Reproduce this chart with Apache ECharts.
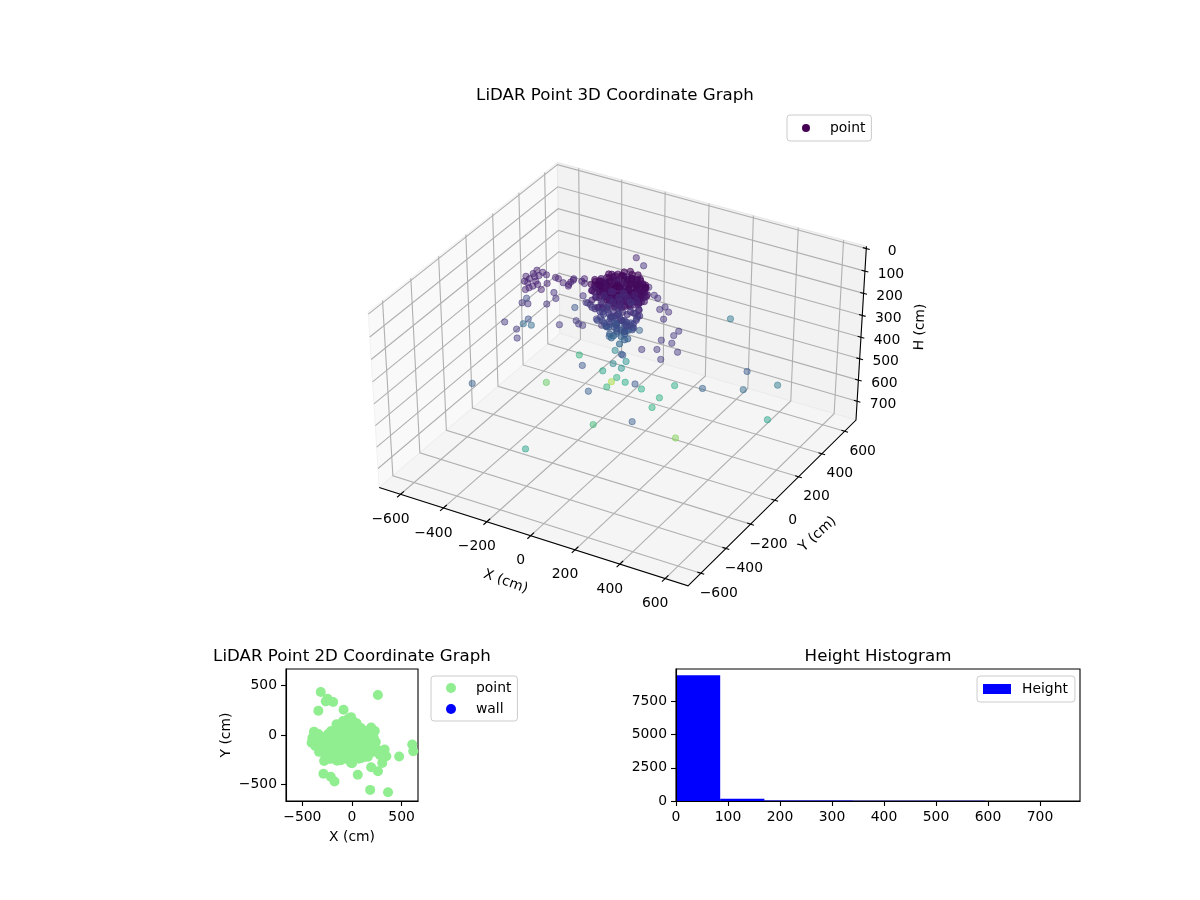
<!DOCTYPE html>
<html>
<head>
<meta charset="utf-8">
<title>LiDAR Point Graphs</title>
<script src="https://cdn.jsdelivr.net/npm/echarts@6/dist/echarts.min.js"></script>
<style>
  html, body { margin: 0; padding: 0; background: #fff; }
  #chart { width: 1200px; height: 900px; }
</style>
</head>
<body>
<div id="chart"></div>
<script>
// [X, Y, H] in cm
const sparsePoints = [
  [-289,-630,220],[-344,0,560],[-270,136,480],[23,-334,200],[123,-459,220],[31,-269,500],[-84,3,430],[-50,-24,480],
  [-188,250,640],[-44,44,470],[-36,18,330],[110,-186,200],[114,-182,205],[8,-74,330],[10,24,370],[20,-30,370],
  [20,0,450],[266,-353,200],[101,-13,450],[377,-568,220],[190,-85,470],[179,-7,470],[201,75,450],[280,-55,600],
  [480,-210,230],[603,-111,250],[582,-44,210],[663,58,300],[661,-13,420],[269,400,290],[-37,-663,420],
  [-111,314,80],[-72,304,100],[39,150,90],[80,121,100],[103,108,100],[153,77,110],[144,51,110],[184,50,110],
  [194,-7,110],[281,-43,120],[281,-82,120],[257,-136,120],[303,-136,120],[277,-205,120],[355,-184,120],
  [227,-234,120],[318,-248,130],[54,52,230],[111,-95,130],[27,-6,210],[4,-2,210],[-11,-13,230],[-25,-47,230],
  [3,-152,120],[-39,-120,120],[-60,-189,120],[-79,-187,120],[-100,-170,120],[-140,-229,120],
  [-333,-316,120],[-265,-340,120],[-228,-397,120],[-392,-86,260],[-359,-80,260],[-321,-163,180],
  [-343,-170,110],[-319,-166,110],[-402,-41,170],[-255,-131,110],[-247,-76,110],[-268,-55,100],
  [-228,35,200],[-166,-5,110],[-131,-30,120],[-116,-35,120],[-139,-29,120]
];
const leftClumpPoints = [
  [-388,18,70],[-387,-12,70],[-360,15,70],[-400,-45,70],[-378,-55,70],[-369,-31,70],[-359,-14,70],[-337,5,70],
  [-368,-85,70],[-348,-135,70],[-337,-98,70],[-328,-77,70],[-385,-81,70],[-343,-116,70],[-295,-104,70],
  [-300,-52,70],[-347,-59,70],[-296,5,70],[-281,2,70],[-249,-16,70],[-218,-29,70],[-226,3,70],[-229,31,70],
  [-223,-17,70],[-193,52,70],[-174,20,70],[-192,30,70],[-225,21,70]
];
const densePoints = [
  [-105,-20,38],[-98,18,26],[-92,-45,52],[-88,44,31],[-80,-8,45],[-76,62,22],[-72,-66,58],[-68,25,18],[-62,-32,36],[-58,78,24],
  [-55,4,60],[-50,-82,47],[-46,48,33],[-44,-14,28],[-38,92,16],[-36,-55,55],[-32,30,41],[-28,-92,62],[-26,68,19],[-22,-5,35],
  [-18,105,14],[-16,-38,48],[-12,50,27],[-8,-74,40],[-6,16,22],[-3,88,30],[0,-22,57],[4,-98,50],[6,38,16],[10,-52,33],
  [12,72,25],[15,-8,44],[18,102,18],[20,-84,63],[24,24,30],[26,-36,20],[30,60,38],[32,-104,55],[36,-2,26],[38,84,21],
  [42,-62,46],[44,36,52],[48,-24,31],[50,66,17],[54,-88,60],[56,10,39],[60,-46,24],[62,44,29],[66,-10,58],[68,-76,36],
  [72,24,20],[76,-34,49],[78,56,34],[82,-60,27],[86,2,43],[90,-18,61],[92,34,22],[96,-44,37],[100,12,30],[104,-22,53],
  [-100,-2,63],[-90,28,48],[-84,-30,24],[-70,6,33],[-66,-50,42],[-60,52,40],[-52,-20,20],[-42,12,50],[-34,-72,26],[-24,40,60],
  [-20,-60,30],[-10,-30,17],[-2,64,45],[8,-14,65],[14,46,35],[22,-68,23],[28,14,56],[34,-28,42],[40,52,28],[46,-50,18],
  [52,-4,34],[58,30,62],[64,-64,41],[70,6,25],[74,-20,35],[80,40,47],[88,-38,20],[94,18,55],[-112,-34,30],[-108,8,55],
  [-95,-60,40],[-78,30,60],[-48,64,48],[-40,-40,22],[-30,78,35],[-14,22,38],[2,-44,28],[16,84,42],[30,-10,50],[44,-84,30],
  [58,-28,45],[72,46,15],[84,-74,52],[98,-6,18],[108,-48,44],[112,2,38],
  [-110,-10,20],[-104,30,44],[-96,-30,15],[-94,8,33],[-86,-50,28],[-84,52,18],[-82,16,58],[-78,-22,36],[-74,40,44],[-70,-42,16],
  [-66,70,30],[-64,-12,52],[-60,12,25],[-56,-60,34],[-54,36,15],[-52,60,46],[-48,-34,58],[-45,-2,14],[-42,82,26],[-40,26,37],
  [-37,-76,20],[-34,6,55],[-30,-22,42],[-28,52,12],[-26,96,38],[-24,-48,16],[-20,14,30],[-17,-78,48],[-15,70,50],[-13,-12,20],
  [-11,36,56],[-9,-56,62],[-7,100,22],[-4,-34,10],[-1,4,40],[1,52,18],[3,-70,24],[5,80,36],[7,-26,12],[9,22,58],
  [11,-88,38],[13,-44,52],[15,60,14],[17,4,26],[19,-60,40],[21,92,32],[23,-16,54],[25,40,44],[27,-78,16],[29,-48,34],
  [31,70,22],[33,-100,44],[35,16,12],[37,-34,60],[39,-8,36],[41,52,40],[43,-70,24],[45,-20,14],[47,28,48],[49,-92,32],
  [51,8,60],[53,-58,18],[55,48,24],[57,-12,44],[59,-78,54],[61,22,14],[63,-36,32],[65,60,30],[67,-52,58],[69,-2,16],
  [71,34,40],[73,-68,22],[75,-14,50],[77,18,30],[79,-44,14],[81,50,20],[83,-28,56],[85,-84,42],[87,12,36],[89,-58,24],
  [91,-6,48],[93,26,16],[95,-30,62],[97,-64,34],[99,2,24],[101,-16,40],[103,-50,20],[105,22,42],[107,-34,30],[109,-8,56],
  [-102,-42,50],[-88,-14,18],[-72,-8,26],[-58,-50,14],[-44,-84,36],[-30,-58,48],[-16,-96,26],[0,-84,18],[12,-108,30],[26,-92,46],
  [40,-108,20],[56,-104,36],[72,-90,48],[90,-78,18],
  [-95,-30,85],[-80,10,92],[-72,-55,110],[-60,30,78],[-50,-15,120],[-42,-70,95],[-35,45,105],[-28,-35,72],[-18,8,128],[-10,-85,88],
  [-4,-48,115],[4,30,82],[12,-20,100],[18,-72,125],[26,12,75],[32,-42,108],[40,-90,90],[48,-8,118],[54,28,86],[62,-58,102],
  [68,-22,76],[76,10,112],[84,-48,94],[92,-14,122],[100,-36,80],[-88,-70,75],[-64,-88,98],[-40,-100,80],[-14,-110,72],[16,-105,100],
  [44,-112,85],[70,-92,110],[-100,-50,120],[-22,60,90],[10,58,120],[38,42,72],[60,6,130],[-55,-45,130],[0,-5,88],[24,-55,78],
  [110,-60,95],[-76,-20,105],[-46,18,70],[96,-70,128],[-30,-10,98],
  [-60,-30,150],[-44,-5,175],[-36,-48,190],[-24,-20,160],[-15,-60,210],[-6,-8,145],[2,-34,195],[10,-70,165],[18,-2,220],[26,-30,155],
  [34,-58,180],[42,-14,200],[50,-42,148],[58,-72,170],[66,-26,185],[74,-6,142],[-70,-60,165],[-50,-70,140],[-28,-80,155],[4,-92,145],
  [30,-85,140],[60,-50,215],[-8,-42,225],[-40,-25,205],[12,-18,235],[40,-40,230],[80,-44,160],[-20,-38,240],[22,-48,250],[-4,-24,180],
  [-48,-60,160],[-30,-62,178],[-12,-70,150],[6,-48,170],[20,-66,185],[36,-30,165],[52,-60,190],[70,-52,150],[-20,-8,190],[8,0,175],
  [30,-12,190],[56,-20,160],[-56,-10,130],[-36,-30,140],[-6,-60,130],[16,-36,140],[44,-72,125],[70,-76,140],[86,-30,135],[-70,-40,135]
];

// [X, Y] in cm
const planePoints = [
  [-315,434],[-247,366],[-264,339],[-190,332],[-339,244],[-85,254],[261,403],[-10,180],[-156,108],[47,119],[193,75],
  [607,-95],[617,-163],[475,-217],[329,-146],[346,-214],[305,-281],[261,-366],[193,-325],[58,-400],[-288,-390],
  [-214,-420],[-176,-468],[183,-553],[363,-576],[0,-285],[-281,-261],[-197,-227],[-112,-254],
  [-383,34],[-407,-78],[-350,-20],[-332,-170],[-370,-110],[-300,-60],[-320,-10],[-280,-100],[-260,-30],[-250,-150],
  [-220,-70],[-200,-20],[-190,-130],[-170,-200],[-140,-50],[-130,30],[-120,100],[-100,-120],[-90,140],[-70,-30],
  [-60,60],[-40,-180],[-30,-90],[-20,110],[0,20],[10,-50],[20,-220],[30,90],[50,-130],[60,30],[80,-60],[90,70],
  [110,-180],[120,-10],[140,40],[150,-100],[170,-40],[190,20],[200,-110],[220,-30],[230,40],[240,-70],[160,-220],
  [100,-230],[-60,-240],[-10,-280],[-230,-240],[-150,-260],[-300,-150],[-240,10],[260,-150],[280,-200],
  [-400,-30],[-380,-60],[-360,-90],[-340,-50],[-340,10],[-310,-100],[-290,-30],[-280,-160],[-250,-90],[-230,-110],
  [-210,-170],[-180,-60],[-170,-100],[-160,-20],[-150,-170],[-130,-100],[-120,-200],[-110,-30],[-100,40],[-90,-70],
  [-80,-160],[-70,90],[-50,-100],[-40,20],[-40,-40],[-20,60],[-10,-130],[0,-180],[10,140],[20,40],[30,-20],[40,-90],
  [50,80],[70,-180],[80,-10],[90,-110],[100,30],[110,-60],[130,-140],[140,-30],[170,-170],[180,-70],[200,50],[210,-170],
  [-60,-200],[-100,-190],[-210,-240],[70,-240],[130,-220],[-270,-200],[-380,10],[-210,40],[-170,40],[-150,70],[-60,120],
  [-40,160],[-10,130],[40,60],[150,10]
];

// histogram: [bin start, bin end, count]
const heightBins = [
  [0,85,9460],[85,170,160],[170,255,45],[255,340,30],[340,425,18],
  [425,510,14],[510,595,10],[595,680,6],[680,765,3]
];

const xTicks3d = [-600,-400,-200,0,200,400,600];
const yTicks3d = [-600,-400,-200,0,200,400,600];
const hTicks3d = [0,100,200,300,400,500,600,700];
const planeTicks = [-500,0,500];
const histXTicks = [0,100,200,300,400,500,600,700];
const histYTicks = [0,2500,5000,7500];

const viridis = ['#440154','#482475','#414487','#355f8d','#2a788e','#21918c','#22a884','#44bf70','#7ad151','#bddf26','#fde725'];
const heightMax = 745;

const font = '"DejaVu Sans", sans-serif';
const minus = v => String(v).replace('-', '\u2212');

// box limits of the 3D axes
const xLim = [-700, 700], yLim = [-700, 700], hLim = [-10, 790];

// same camera maths as mplot3d, output goes on the hidden scene axes
const ELEV = 38 * Math.PI / 180, AZIM = -60 * Math.PI / 180, DIST = 12;
const BOX = [1.1428, 1.1428, 0.8571];
const n = [Math.cos(ELEV) * Math.cos(AZIM), Math.cos(ELEV) * Math.sin(AZIM), Math.sin(ELEV)];
const u = [-n[1] / Math.cos(ELEV), n[0] / Math.cos(ELEV), 0];
const v = [n[1] * u[2] - n[2] * u[1], n[2] * u[0] - n[0] * u[2], n[0] * u[1] - n[1] * u[0]];
const dot = (a, b) => a[0] * b[0] + a[1] * b[1] + a[2] * b[2];
const project = (X, Y, H) => {
  const d = [
    ((X - xLim[0]) / (xLim[1] - xLim[0]) - 0.5) * BOX[0],
    ((Y - yLim[0]) / (yLim[1] - yLim[0]) - 0.5) * BOX[1],
    ((hLim[1] - H) / (hLim[1] - hLim[0]) - 0.5) * BOX[2]
  ];
  const w = DIST - dot(n, d);
  return [dot(u, d) / w, dot(v, d) / w];
};

const heightColor = h => {
  const t = Math.min(Math.max(h / heightMax, 0), 1) * (viridis.length - 1);
  const i = Math.min(Math.floor(t), viridis.length - 2);
  const f = t - i;
  const rgb = s => [1, 3, 5].map(k => parseInt(s.substr(k, 2), 16));
  const a = rgb(viridis[i]), b = rgb(viridis[i + 1]);
  return `rgb(${a.map((c, k) => Math.round(c + (b[k] - c) * f)).join(',')})`;
};

// panes, grid lines, axis lines, ticks and labels of the 3D box
const scene = [];
const addPoly = (type, pts, style) => scene.push({ type, pts: pts.map(p => project(p[0], p[1], p[2])), style });
const addText = (text, p, dx, dy, rotation) => scene.push({ type: 'text', text, pts: [project(p[0], p[1], p[2])], dx, dy, rotation });

const [x0, x1] = xLim, [y0, y1] = yLim, hTop = hLim[0], hBot = hLim[1];
const gridStyle = { stroke: '#b0b0b0', lineWidth: 1.1, fill: 'none' };
const axisStyle = { stroke: '#000', lineWidth: 1.1, fill: 'none' };

addPoly('polygon', [[x0,y0,hBot],[x0,y1,hBot],[x0,y1,hTop],[x0,y0,hTop]], { fill: '#f9f9f9', stroke: '#f2f2f2', lineWidth: 1 });
addPoly('polygon', [[x0,y1,hBot],[x1,y1,hBot],[x1,y1,hTop],[x0,y1,hTop]], { fill: '#f2f2f2', stroke: '#e8e8e8', lineWidth: 1 });
addPoly('polygon', [[x0,y0,hBot],[x1,y0,hBot],[x1,y1,hBot],[x0,y1,hBot]], { fill: '#f5f5f5', stroke: '#ececec', lineWidth: 1 });

xTicks3d.forEach(t => addPoly('polyline', [[t,y0,hBot],[t,y1,hBot],[t,y1,hTop]], gridStyle));
yTicks3d.forEach(t => addPoly('polyline', [[x1,t,hBot],[x0,t,hBot],[x0,t,hTop]], gridStyle));
hTicks3d.forEach(t => addPoly('polyline', [[x0,y0,t],[x0,y1,t],[x1,y1,t]], gridStyle));

addPoly('polyline', [[x0,y0,hBot],[x1,y0,hBot],[x1,y1,hBot],[x1,y1,hTop]], axisStyle);
xTicks3d.forEach(t => {
  addPoly('polyline', [[t,y0 - 25,hBot],[t,y0 + 25,hBot]], axisStyle);
  addText(minus(t), [t,y0,hBot], -10, 25, 0);
});
yTicks3d.forEach(t => {
  addPoly('polyline', [[x1 - 15,t,hBot],[x1 + 15,t,hBot]], axisStyle);
  addText(minus(t), [x1,t,hBot], 18, 20, 0);
});
hTicks3d.forEach(t => {
  addPoly('polyline', [[x1 - 15,y1,t],[x1 + 15,y1,t]], axisStyle);
  addText(minus(t), [x1,y1,t], 26, 3, 0);
});
addText('X (cm)', [0,y0,hBot], -25, 46, -20 * Math.PI / 180);
addText('Y (cm)', [x1,0,hBot], 43, 34, 42 * Math.PI / 180);
addText('H (cm)', [x1,y1,390], 59, -8, 88 * Math.PI / 180);

const renderScene = (params, api) => {
  const item = scene[params.dataIndex];
  const pts = item.pts.map(p => api.coord(p));
  if (item.type === 'text') {
    return {
      type: 'text',
      x: pts[0][0] + item.dx,
      y: pts[0][1] + item.dy,
      rotation: item.rotation,
      style: { text: item.text, fill: '#000', font: `13.9px ${font}`, align: 'center', verticalAlign: 'middle' }
    };
  }
  return { type: item.type, shape: { points: pts }, style: item.style };
};

const renderBin = (params, api) => {
  const a = api.coord([api.value(0), 0]);
  const b = api.coord([api.value(1), api.value(2)]);
  return { type: 'rect', shape: { x: a[0], y: b[1], width: b[0] - a[0], height: a[1] - b[1] }, style: { fill: '#0000ff' } };
};

// the packed points read darker in the reference, as nearer ones do with depth shading
const cloudItem = opacity => p => {
  const c = heightColor(p[2]);
  return {
    value: project(p[0], p[1], p[2]),
    itemStyle: { color: c, borderColor: c, borderWidth: 1, opacity }
  };
};

const hiddenAxis = { show: false, type: 'value', min: -0.1, max: 0.1 };
const valueAxis = (ticks, min, max, extra) => Object.assign({
  type: 'value',
  min,
  max,
  axisLine: { show: true, onZero: false, lineStyle: { color: '#000', width: 1.1 } },
  axisTick: { show: true, length: 5, customValues: ticks, lineStyle: { color: '#000', width: 1.1 } },
  axisLabel: { color: '#000', fontSize: 13.9, fontFamily: font, margin: 9, customValues: ticks, formatter: minus, showMinLabel: true, showMaxLabel: true },
  splitLine: { show: false },
  nameTextStyle: { color: '#000', fontSize: 13.9, fontFamily: font }
}, extra);

const titleBase = { top: 648, padding: 0, textAlign: 'center', textStyle: { color: '#000', fontSize: 16.67, fontWeight: 'normal', fontFamily: font } };
const legendBase = {
  orient: 'vertical',
  selectedMode: false,
  backgroundColor: '#fff',
  borderColor: '#cccccc',
  borderWidth: 1,
  borderRadius: 3,
  itemHeight: 10,
  itemGap: 7,
  textStyle: { color: '#000', fontSize: 13.9, fontFamily: font }
};

const option = {
  animation: false,
  backgroundColor: '#fff',
  title: [
    Object.assign({}, titleBase, { text: 'LiDAR Point 3D Coordinate Graph', left: 615, top: 87 }),
    Object.assign({}, titleBase, { text: 'LiDAR Point 2D Coordinate Graph', left: 352 }),
    Object.assign({}, titleBase, { text: 'Height Histogram', left: 878 })
  ],
  legend: [
    Object.assign({}, legendBase, {
      left: 787, top: 115, itemWidth: 38, itemHeight: 8, padding: [6, 6, 6, 15],
      data: [{ name: 'point', icon: 'circle', itemStyle: { color: '#440154', opacity: 1, borderWidth: 0 } }]
    }),
    Object.assign({}, legendBase, {
      left: 431, top: 676, itemWidth: 40, padding: [5, 6, 5, 15],
      data: [
        { name: 'point', icon: 'circle', itemStyle: { color: '#90ee90', opacity: 1, borderWidth: 0 } },
        { name: 'wall', icon: 'circle', itemStyle: { color: '#0000ff', opacity: 1, borderWidth: 0 } }
      ]
    }),
    Object.assign({}, legendBase, {
      left: 977, top: 676, itemWidth: 28, padding: [6, 7, 6, 6],
      textStyle: { color: '#000', fontSize: 13.9, fontFamily: font, padding: [0, 0, 0, 6] },
      data: [{ name: 'Height', icon: 'rect', itemStyle: { color: '#0000ff', opacity: 1 } }]
    })
  ],
  grid: [
    { left: 246.3, top: 57.7, width: 749, height: 620.4, show: false },
    { left: 286, top: 669, width: 132, height: 132, show: true, borderColor: '#000', borderWidth: 1.1, backgroundColor: 'transparent' },
    { left: 676, top: 669, width: 404, height: 132, show: true, borderColor: '#000', borderWidth: 1.1, backgroundColor: 'transparent' }
  ],
  xAxis: [
    Object.assign({ gridIndex: 0 }, hiddenAxis),
    valueAxis(planeTicks, -665, 665, { gridIndex: 1, name: 'X (cm)', nameLocation: 'middle', nameGap: 29 }),
    valueAxis(histXTicks, 0, 777, { gridIndex: 2, z: 5 })
  ],
  yAxis: [
    Object.assign({ gridIndex: 0 }, hiddenAxis),
    valueAxis(planeTicks, -665, 665, { gridIndex: 1, name: 'Y (cm)', nameLocation: 'middle', nameGap: 53 }),
    valueAxis(histYTicks, 0, 9933, { gridIndex: 2, z: 5 })
  ],
  series: [
    {
      type: 'custom',
      name: 'scene',
      xAxisIndex: 0,
      yAxisIndex: 0,
      silent: true,
      clip: false,
      z: 1,
      renderItem: renderScene,
      encode: { x: 0, y: 1 },
      data: scene.map((s, i) => [s.pts[0][0], s.pts[0][1], i])
    },
    {
      type: 'scatter',
      name: 'point',
      xAxisIndex: 0,
      yAxisIndex: 0,
      silent: true,
      z: 3,
      symbolSize: 6.4,
      large: false,
      itemStyle: { color: '#440154' },
      data: sparsePoints.concat(leftClumpPoints).map(cloudItem(0.48)).concat(densePoints.map(cloudItem(0.6)))
    },
    {
      type: 'scatter',
      name: 'point',
      xAxisIndex: 1,
      yAxisIndex: 1,
      silent: true,
      z: 3,
      symbolSize: 10,
      itemStyle: { color: '#90ee90', opacity: 1 },
      data: planePoints
    },
    {
      type: 'scatter',
      name: 'wall',
      xAxisIndex: 1,
      yAxisIndex: 1,
      silent: true,
      itemStyle: { color: '#0000ff' },
      data: []
    },
    {
      type: 'custom',
      name: 'Height',
      xAxisIndex: 2,
      yAxisIndex: 2,
      silent: true,
      z: 2,
      itemStyle: { color: '#0000ff' },
      renderItem: renderBin,
      encode: { x: [0, 1], y: 2 },
      data: heightBins
    }
  ]
};

const chart = echarts.init(document.getElementById('chart'), null, { renderer: 'canvas' });
chart.setOption(option);
</script>
</body>
</html>
